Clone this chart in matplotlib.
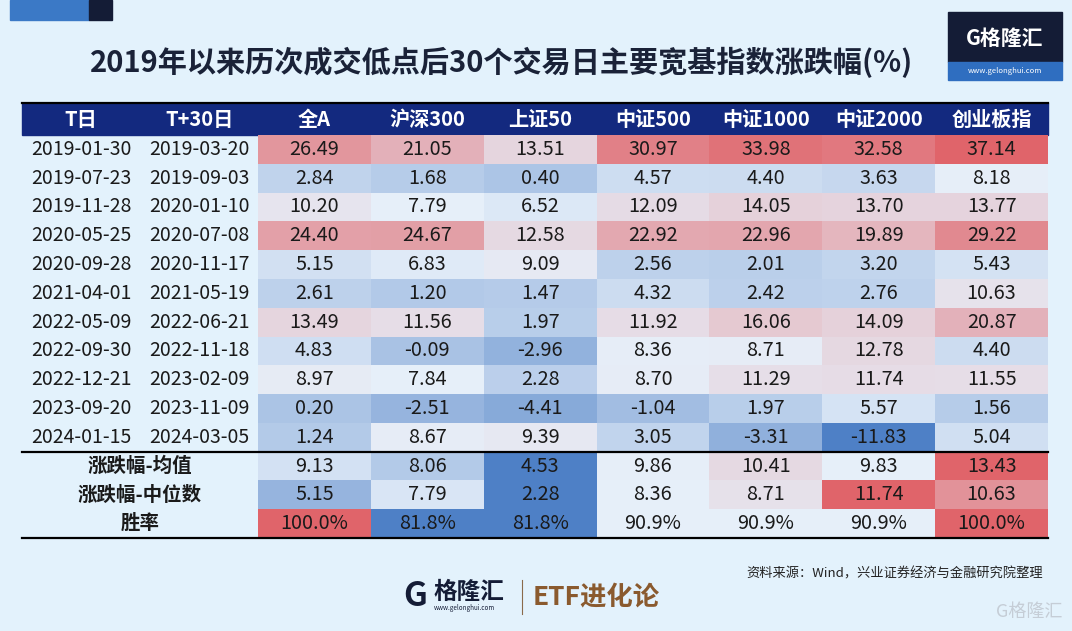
import numpy as np
import matplotlib
matplotlib.use("Agg")
import matplotlib.pyplot as plt
from matplotlib.colors import LinearSegmentedColormap, TwoSlopeNorm
from matplotlib.patches import Rectangle

plt.rcParams['font.family'] = ['Noto Sans CJK SC', 'DejaVu Sans']

title = '2019年以来历次成交低点后30个交易日主要宽基指数涨跌幅(%)'
header = ['T日', 'T+30日', '全A', '沪深300', '上证50', '中证500', '中证1000', '中证2000', '创业板指']

t_dates = ['2019-01-30', '2019-07-23', '2019-11-28', '2020-05-25', '2020-09-28', '2021-04-01',
           '2022-05-09', '2022-09-30', '2022-12-21', '2023-09-20', '2024-01-15']
t30_dates = ['2019-03-20', '2019-09-03', '2020-01-10', '2020-07-08', '2020-11-17', '2021-05-19',
             '2022-06-21', '2022-11-18', '2023-02-09', '2023-11-09', '2024-03-05']

quanA    = [26.49, 2.84, 10.20, 24.40, 5.15, 2.61, 13.49, 4.83, 8.97, 0.20, 1.24]
hs300    = [21.05, 1.68, 7.79, 24.67, 6.83, 1.20, 11.56, -0.09, 7.84, -2.51, 8.67]
sz50     = [13.51, 0.40, 6.52, 12.58, 9.09, 1.47, 1.97, -2.96, 2.28, -4.41, 9.39]
zz500    = [30.97, 4.57, 12.09, 22.92, 2.56, 4.32, 11.92, 8.36, 8.70, -1.04, 3.05]
zz1000   = [33.98, 4.40, 14.05, 22.96, 2.01, 2.42, 16.06, 8.71, 11.29, 1.97, -3.31]
zz2000   = [32.58, 3.63, 13.70, 19.89, 3.20, 2.76, 14.09, 12.78, 11.74, 5.57, -11.83]
cyb      = [37.14, 8.18, 13.77, 29.22, 5.43, 10.63, 20.87, 4.40, 11.55, 1.56, 5.04]

summary_labels = ['涨跌幅-均值', '涨跌幅-中位数', '胜率']
mean_vals   = [9.13, 8.06, 4.53, 9.86, 10.41, 9.83, 13.43]
median_vals = [5.15, 7.79, 2.28, 8.36, 8.71, 11.74, 10.63]
win_rate    = [100.0, 81.8, 81.8, 90.9, 90.9, 90.9, 100.0]

source = '资料来源：Wind，兴业证券经济与金融研究院整理'

# layout (pixels)
W, H = 1072, 631
bg = '#E3F2FC'
navy = '#13297F'
val_left, val_right = 258, 1048
head_top, head_h = 103, 32
row_h = 28.8

cmap = LinearSegmentedColormap.from_list('rwb', ['#4E80C6', '#E7F0FA', '#E0646A'])

fig = plt.figure(figsize=(W / 100, H / 100), dpi=100, facecolor=bg)
ax = fig.add_axes([0, 0, 1, 1])
ax.set_xlim(0, W)
ax.set_ylim(H, 0)
ax.axis('off')
ax.set_facecolor(bg)

# top-left decoration
ax.add_patch(Rectangle((10, 0), 79, 20, color='#3B79C6'))
ax.add_patch(Rectangle((89, 0), 23, 20, color='#141C36'))

ax.text(502, 62, title, ha='center', va='center', fontsize=21, fontweight='bold', color='#1A2238')

# top-right logo
ax.add_patch(Rectangle((948, 12), 114, 50, color='#141C36'))
ax.add_patch(Rectangle((948, 62), 114, 18, color='#2F6EC0'))
ax.text(1005, 38, 'G格隆汇', ha='center', va='center', fontsize=15, fontweight='bold', color='white')
ax.text(1005, 71, 'www.gelonghui.com', ha='center', va='center', fontsize=5.5, color='white')

# header
ax.add_patch(Rectangle((22, head_top), val_right - 22, head_h, color=navy))
ncol = len(header) - 2
val_w = (val_right - val_left) / ncol
hx = [81, 199] + [val_left + val_w * (i + 0.5) for i in range(ncol)]
for x, lab in zip(hx, header):
    ax.text(x, head_top + head_h / 2, lab, ha='center', va='center', fontsize=14.5,
            fontweight='bold', color='white')

# data block, one colour scale for the whole block
data = np.array([quanA, hs300, sz50, zz500, zz1000, zz2000, cyb]).T
nrow = data.shape[0]
data_top = head_top + head_h
data_bot = data_top + nrow * row_h
norm = TwoSlopeNorm(vmin=data.min(), vcenter=np.median(data), vmax=data.max())
ax.imshow(data, cmap=cmap, norm=norm, extent=[val_left, val_right, data_bot, data_top],
          aspect='auto', interpolation='nearest', zorder=1)
for i in range(nrow):
    y = data_top + row_h * (i + 0.5)
    ax.text(81, y, t_dates[i], ha='center', va='center', fontsize=14, color='#1A1A1A')
    ax.text(199, y, t30_dates[i], ha='center', va='center', fontsize=14, color='#1A1A1A')
    for j in range(ncol):
        ax.text(val_left + val_w * (j + 0.5), y, f'{data[i, j]:.2f}', ha='center', va='center',
                fontsize=14.3, color='#1A1A1A', zorder=3)

# summary rows, each coloured on its own scale
summary = [mean_vals, median_vals, win_rate]
for k, row in enumerate(summary):
    row = np.array(row)
    top = data_bot + k * row_h
    rn = TwoSlopeNorm(vmin=row.min(), vcenter=np.median(row), vmax=row.max())
    ax.imshow(row[None, :], cmap=cmap, norm=rn, extent=[val_left, val_right, top + row_h, top],
              aspect='auto', interpolation='nearest', zorder=1)
    y = top + row_h / 2
    ax.text(140, y, summary_labels[k], ha='center', va='center', fontsize=14,
            fontweight='bold', color='#1A1A1A')
    fmt = '{:.1f}%' if k == 2 else '{:.2f}'
    for j, v in enumerate(row):
        ax.text(val_left + val_w * (j + 0.5), y, fmt.format(v), ha='center', va='center',
                fontsize=14.3, color='#1A1A1A', zorder=3)

table_bot = data_bot + len(summary) * row_h
for yy in [head_top, data_bot, table_bot]:
    ax.plot([22, val_right], [yy, yy], color='black', lw=1.6, zorder=4)

ax.set_xlim(0, W)
ax.set_ylim(H, 0)

ax.text(1043, 574, source, ha='right', va='center', fontsize=9.5, color='#222222')

# bottom logo
ax.text(403, 596, 'G', ha='left', va='center', fontsize=24, fontweight='bold', color='#141C36')
ax.text(433, 592, '格隆汇', ha='left', va='center', fontsize=17, fontweight='bold', color='#141C36')
ax.text(434, 608, 'www.gelonghui.com', ha='left', va='center', fontsize=4.5, color='#141C36')
ax.plot([522, 522], [580, 614], color='#8A6A4A', lw=0.8)
ax.text(533, 597, 'ETF进化论', ha='left', va='center', fontsize=19, fontweight='bold', color='#8A5A2E')

# watermark
ax.text(1062, 612, 'G格隆汇', ha='right', va='center', fontsize=13, color='#C5CDD6')

fig.savefig('out.png', dpi=100, facecolor=bg)
